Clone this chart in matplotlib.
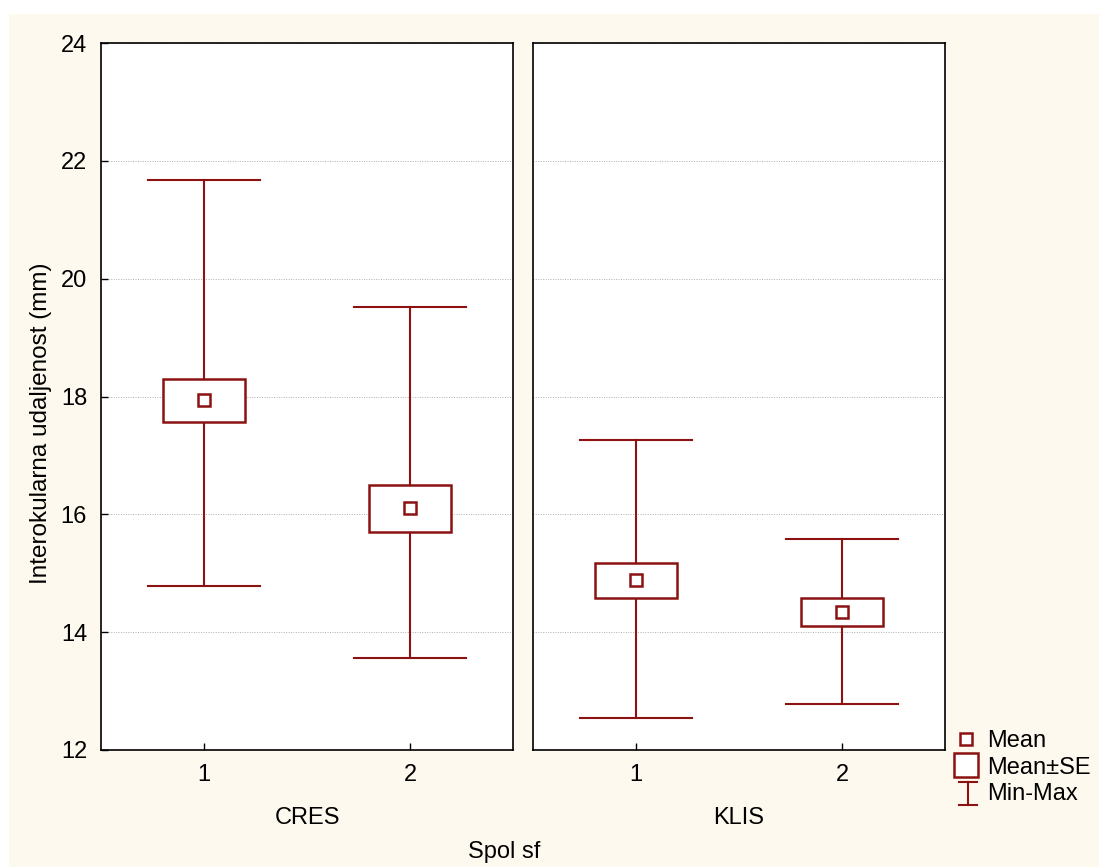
import numpy as np
import matplotlib
matplotlib.use("Agg")
import matplotlib.pyplot as plt
from matplotlib.patches import Rectangle
from matplotlib.lines import Line2D

plt.rcParams['font.family'] = ['Liberation Sans', 'DejaVu Sans']

# data
panels = ['CRES', 'KLIS']
groups = [1, 2]
means = [[17.94, 16.10], [14.88, 14.34]]
se_lo = [[17.56, 15.70], [14.58, 14.10]]
se_hi = [[18.30, 16.50], [15.17, 14.58]]
mins = [[14.78, 13.56], [12.54, 12.78]]
maxs = [[21.67, 19.52], [17.26, 15.58]]

red = '#8c1212'
cream = '#fef9ee'
fs = 17

fig = plt.figure(figsize=(10.99, 8.67), dpi=100)
fig.patch.set_facecolor('white')
fig.add_artist(Rectangle((9 / 1099, 0), 1, 1 - 14 / 867, transform=fig.transFigure,
                         facecolor=cream, edgecolor='none', zorder=-10))

bottom = 1 - 750 / 867
height = (750 - 43) / 867
width = 412 / 1099
lefts = [101 / 1099, 533 / 1099]

for p, name in enumerate(panels):
    ax = fig.add_axes([lefts[p], bottom, width, height])
    ax.set_facecolor('white')
    ax.set_xlim(0.5, 2.5)
    ax.set_ylim(12, 24)
    ax.set_yticks(np.arange(12, 25, 2))
    ax.set_xticks(groups)
    ax.set_xticklabels([str(g) for g in groups])
    ax.yaxis.grid(True, color='#b0b0b0', linestyle=(0, (1, 1.5)), linewidth=0.7)
    ax.set_axisbelow(True)
    ax.tick_params(direction='in', length=5, labelsize=fs, width=1, pad=10)
    if p > 0:
        ax.tick_params(axis='y', labelleft=False, left=False)
    for s in ax.spines.values():
        s.set_linewidth(1.2)
    for i, g in enumerate(groups):
        ax.plot([g, g], [mins[p][i], se_lo[p][i]], color=red, lw=1.5, zorder=3)
        ax.plot([g, g], [se_hi[p][i], maxs[p][i]], color=red, lw=1.5, zorder=3)
        ax.plot([g - 0.27, g + 0.27], [mins[p][i]] * 2, color=red, lw=1.5, zorder=3)
        ax.plot([g - 0.27, g + 0.27], [maxs[p][i]] * 2, color=red, lw=1.5, zorder=3)
        ax.add_patch(Rectangle((g - 0.2, se_lo[p][i]), 0.4, se_hi[p][i] - se_lo[p][i],
                               facecolor='white', edgecolor=red, lw=1.8, zorder=4))
        ax.plot(g, means[p][i], marker='s', ms=8, mfc='white', mec=red, mew=1.8, zorder=5)
    ax.text(0.5, 1 - (818 - 43) / 707, name, transform=ax.transAxes,
            ha='center', va='center', fontsize=fs)

fig.text(41 / 1099, 1 - 423 / 867, 'Interokularna udaljenost (mm)', rotation=90,
         ha='center', va='center', fontsize=fs + 0.5)
fig.text(504 / 1099, 1 - 852 / 867, 'Spol sf', ha='center', va='center', fontsize=fs)

handles = [
    Line2D([], [], marker='s', ms=8, mfc='white', mec=red, mew=1.8, ls='none'),
    Line2D([], [], marker='s', ms=17, mfc='white', mec=red, mew=1.8, ls='none'),
    Line2D([], [], ls='none'),
]
leg = fig.legend(handles, ['Mean', 'Mean\u00b1SE', 'Min-Max'], loc='upper left',
                 bbox_to_anchor=(941 / 1099, 1 - 718 / 867), frameon=False, fontsize=fs,
                 handlelength=1.15, handletextpad=0.3, labelspacing=0.2, borderpad=0)

# min-max glyph for the legend, drawn in figure coords
hx = 968 / 1099
fig.add_artist(Line2D([hx, hx], [1 - 782 / 867, 1 - 805 / 867], color=red, lw=1.5, transform=fig.transFigure))
fig.add_artist(Line2D([hx - 9 / 1099, hx + 9 / 1099], [1 - 782 / 867] * 2, color=red, lw=1.5, transform=fig.transFigure))
fig.add_artist(Line2D([hx - 9 / 1099, hx + 9 / 1099], [1 - 805 / 867] * 2, color=red, lw=1.5, transform=fig.transFigure))

fig.savefig('out.png', dpi=100, facecolor=fig.get_facecolor())
